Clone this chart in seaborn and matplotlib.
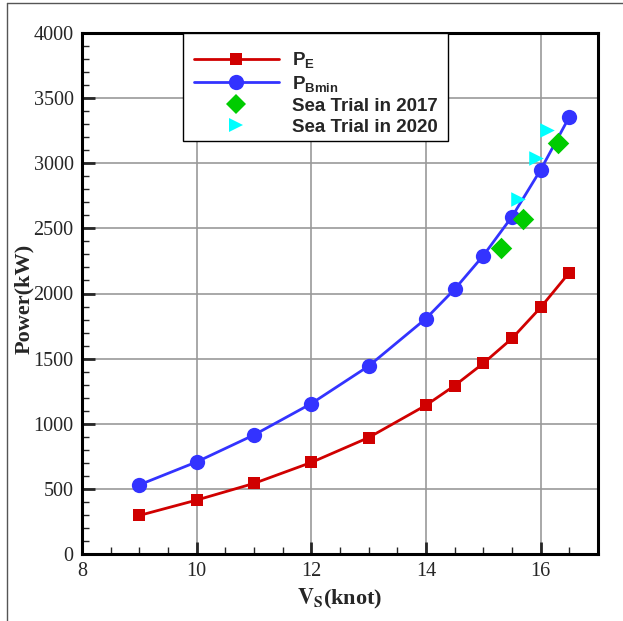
import matplotlib
matplotlib.use("Agg")
import matplotlib.pyplot as plt
from matplotlib.lines import Line2D
from matplotlib.patches import Rectangle
from matplotlib.ticker import MultipleLocator
import pandas as pd
import seaborn as sns

# Ship speed (knot) and power curves (kW)
speed = [9, 10, 11, 12, 13, 14, 14.5, 15, 15.5, 16, 16.5]
p_e = [296, 414, 542, 703, 894, 1142, 1293, 1464, 1655, 1893, 2161]
p_bmin = [531, 707, 914, 1155, 1443, 1808, 2033, 2291, 2590, 2950, 3356]

# Sea trial measurements
trial_2017_speed = [15.31, 15.70, 16.30]
trial_2017_power = [2350, 2572, 3152]
trial_2020_speed = [15.60, 15.91, 16.11]
trial_2020_power = [2728, 3037, 3259]

sns.set_style("white")
plt.rcParams["font.family"] = ["Liberation Serif", "DejaVu Serif"]

curves = pd.DataFrame({"speed": speed, "P_E": p_e, "P_Bmin": p_bmin})
t17 = pd.DataFrame({"speed": trial_2017_speed, "power": trial_2017_power})
t20 = pd.DataFrame({"speed": trial_2020_speed, "power": trial_2020_power})

RED = "#d00000"
BLUE = "#3333ff"
GREEN = "#00cc00"
CYAN = "#00ffff"

W, H = 623, 621
AX_L, AX_R, AX_T, AX_B = 82, 598, 33, 554
AX_W, AX_H = AX_R - AX_L, AX_B - AX_T

fig = plt.figure(figsize=(W / 100, H / 100), dpi=100)
ax = fig.add_axes([AX_L / W, 1 - AX_B / H, AX_W / W, AX_H / H])

sns.lineplot(data=curves, x="speed", y="P_E", ax=ax, color=RED, lw=2,
             marker="s", markersize=8, markeredgewidth=0, zorder=4)
sns.lineplot(data=curves, x="speed", y="P_Bmin", ax=ax, color=BLUE, lw=2,
             marker="o", markersize=11, markeredgewidth=0, zorder=4)
sns.scatterplot(data=t17, x="speed", y="power", ax=ax, color=GREEN,
                marker="D", s=120, linewidth=0, zorder=5)
sns.scatterplot(data=t20, x="speed", y="power", ax=ax, color=CYAN,
                marker=">", s=110, linewidth=0, zorder=5)

ax.set_xlim(8, 17)
ax.set_ylim(0, 4000)
ax.xaxis.set_major_locator(MultipleLocator(2))
ax.xaxis.set_minor_locator(MultipleLocator(0.5))
ax.yaxis.set_major_locator(MultipleLocator(500))
ax.yaxis.set_minor_locator(MultipleLocator(100))
ax.grid(True, which="major", color="#999999", lw=1.2, zorder=0)
ax.set_axisbelow(True)

for side in ["left", "right", "top", "bottom"]:
    ax.spines[side].set_visible(True)
    ax.spines[side].set_color("black")
    ax.spines[side].set_linewidth(2.2)

ax.tick_params(axis="both", which="major", direction="in", length=9, width=2,
               labelsize=14.5, pad=6, left=True, bottom=True, top=False, right=False)
ax.tick_params(axis="both", which="minor", direction="in", length=5, width=1,
               left=True, bottom=True, top=False, right=False)

ax.set_xlabel(r"$\mathbf{V_S}$" + "(knot)", fontsize=16, fontweight="bold",
              math_fontfamily="stix", labelpad=4)
ax.set_ylabel("Power(kW)", fontsize=16, fontweight="bold")
ax.yaxis.set_label_coords((34 - AX_L) / AX_W, 0.49)

# Legend box drawn as a plain rectangle, entries placed inside it
box_l, box_r, box_t, box_b = 183, 448, 33, 141
ax.add_patch(Rectangle(((box_l - AX_L) / AX_W, (AX_B - box_b) / AX_H),
                       (box_r - box_l) / AX_W, (box_b - box_t) / AX_H,
                       transform=ax.transAxes, facecolor="white", edgecolor="black",
                       lw=1.0, clip_on=False, zorder=6))

plt.rcParams["mathtext.fontset"] = "custom"
plt.rcParams["mathtext.bf"] = "Liberation Sans:bold"
plt.rcParams["mathtext.rm"] = "Liberation Sans:bold"
handles = [
    Line2D([], [], color=RED, lw=2, marker="s", markersize=8, markeredgewidth=0),
    Line2D([], [], color=BLUE, lw=2, marker="o", markersize=11, markeredgewidth=0),
    Line2D([], [], color=GREEN, lw=0, marker="D", markersize=10, markeredgewidth=0),
    Line2D([], [], color=CYAN, lw=0, marker=">", markersize=10, markeredgewidth=0),
]
labels = [r"$\mathbf{P_{E}}$", r"$\mathbf{P_{Bmin}}$",
          "Sea Trial in 2017", "Sea Trial in 2020"]
leg = ax.legend(handles, labels, loc="upper left",
                bbox_to_anchor=((box_l - AX_L) / AX_W, 1.0 - 6 / AX_H), borderaxespad=0,
                prop={"family": "Liberation Sans", "weight": "bold", "size": 13.5},
                handlelength=4.5, handletextpad=0.7, labelspacing=0.2,
                borderpad=0.6, frameon=False)
leg.set_zorder(7)
for t in leg.get_texts():
    t.set_math_fontfamily("custom")

# Outer frame lines of the figure
fig.add_artist(Line2D([7 / W, 7 / W], [0, 1 - 3 / H], transform=fig.transFigure,
                      color="#555555", lw=1))
fig.add_artist(Line2D([7 / W, 1], [1 - 3 / H, 1 - 3 / H], transform=fig.transFigure,
                      color="#555555", lw=1))

fig.savefig("out.png", dpi=100)
